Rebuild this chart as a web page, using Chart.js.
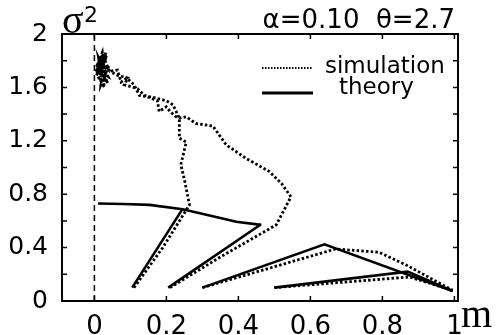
<!DOCTYPE html>
<html>
<head>
<meta charset="utf-8">
<script src="https://cdn.jsdelivr.net/npm/chart.js@4.4.1/dist/chart.umd.min.js"></script>
<style>
  html, body { margin: 0; padding: 0; background: #fff; }
  #wrap { width: 503px; height: 335px; }
</style>
</head>
<body>
<div id="wrap"><canvas id="myChart"></canvas></div>
<script>
// axes ----------------------------------------------------------->
const xTicks = [0, 0.2, 0.4, 0.6, 0.8, 1];
const yTicks = [0, 0.2, 0.4, 0.6, 0.8, 1.0, 1.2, 1.4, 1.6, 1.8, 2.0];
const yLabelled = [0, 0.4, 0.8, 1.2, 1.6, 2];

// simulation runs (m, sigma^2) ---------------------------------->
const simRun1 = [[0.11,0.10],[0.19,0.40],[0.264,0.72],[0.259,0.79],[0.25,0.91],[0.24,1.02],[0.255,1.19],
  [0.236,1.22],[0.236,1.37],[0.218,1.47],[0.20,1.50],[0.171,1.52],[0.153,1.53],[0.139,1.54],[0.12,1.59],
  [0.083,1.62],[0.093,1.67],[0.065,1.69],[0.042,1.72]];
// the run settles into a jittery blob near m=0
const simCluster = [[0.042,1.72],[0.03,1.80],[0.012,1.70],[0.035,1.84],[0.008,1.77],[0.03,1.64],
  [0.022,1.86],[0.004,1.73],[0.038,1.68],[0.012,1.82],[0.028,1.60],[0.010,1.68],[0.026,1.83],
  [0.006,1.79],[0.034,1.74],[0.016,1.64],[0.024,1.85],[0.004,1.75],[0.036,1.70],[0.014,1.80],
  [0.030,1.66],[0.008,1.71],[0.030,1.82],[0.010,1.74],[0.040,1.76],[0.018,1.62],[0.022,1.79],
  [0.006,1.69],[0.032,1.86],[0.012,1.77],[0.038,1.63],[0.016,1.72],[0.028,1.78],[0.010,1.83],
  [0.034,1.67],[0.020,1.74]];
const simRun2 = [[0.21,0.10],[0.35,0.33],[0.505,0.57],[0.546,0.78],[0.52,0.88],[0.486,0.97],[0.42,1.07],
  [0.366,1.17],[0.345,1.25],[0.329,1.31],[0.282,1.33],[0.255,1.38],[0.236,1.37],[0.227,1.38],[0.21,1.42],
  [0.20,1.455],[0.18,1.42],[0.175,1.50],[0.147,1.53],[0.125,1.54],[0.11,1.62],[0.09,1.67],[0.074,1.64],
  [0.064,1.73],[0.042,1.72]];
const simRun3 = [[0.30,0.10],[0.67,0.39],[0.79,0.365],[0.866,0.27],[0.995,0.08]];
const simRun4 = [[0.50,0.10],[0.875,0.18],[0.995,0.08]];

// theory ---------------------------------------------------------->
const theoryCurve = [[0.01,0.73],[0.08,0.727],[0.153,0.72],[0.245,0.687],[0.338,0.63],[0.394,0.594],[0.463,0.57]];
const theoryRun1 = [[0.105,0.10],[0.245,0.69]];
const theoryRun2 = [[0.205,0.10],[0.463,0.575]];
const theoryRun3 = [[0.30,0.10],[0.639,0.425],[0.995,0.075]];
const theoryRun4 = [[0.50,0.10],[0.87,0.22],[0.995,0.075]];

const zeroLine = [[0, 0], [0, 2]];

const toXY = arr => arr.map(p => ({ x: p[0], y: p[1] }));

function simSet(arr) {
    return { label: 'simulation', data: toXY(arr), borderColor: '#000', borderWidth: 2.8,
             borderDash: [2.5, 2.2], showLine: true, pointRadius: 0, tension: 0 };
}
function theorySet(arr) {
    return { label: 'theory', data: toXY(arr), borderColor: '#000', borderWidth: 2.6,
             showLine: true, pointRadius: 0, tension: 0 };
}

// frame, inward ticks, legend and labels
const extras = {
    id: 'extras',
    afterDraw(chart) {
        const ctx = chart.ctx;
        const a = chart.chartArea;
        const xs = chart.scales.x, ys = chart.scales.y;
        ctx.save();
        ctx.strokeStyle = '#000';
        ctx.lineWidth = 2;
        ctx.strokeRect(a.left, a.top, a.right - a.left, a.bottom - a.top);

        ctx.lineWidth = 1.5;
        ctx.beginPath();
        xTicks.forEach(v => {
            const px = xs.getPixelForValue(v);
            ctx.moveTo(px, a.bottom); ctx.lineTo(px, a.bottom - 5);
            ctx.moveTo(px, a.top); ctx.lineTo(px, a.top + 5);
        });
        yTicks.forEach(v => {
            const py = ys.getPixelForValue(v);
            ctx.moveTo(a.left, py); ctx.lineTo(a.left + 5, py);
            ctx.moveTo(a.right, py); ctx.lineTo(a.right - 5, py);
        });
        ctx.stroke();

        // legend
        ctx.lineWidth = 1.8;
        ctx.setLineDash([1.5, 1.5]);
        ctx.beginPath(); ctx.moveTo(262, 68); ctx.lineTo(312, 68); ctx.stroke();
        ctx.setLineDash([]);
        ctx.lineWidth = 2.8;
        ctx.beginPath(); ctx.moveTo(262, 93); ctx.lineTo(313, 93); ctx.stroke();

        ctx.fillStyle = '#000';
        ctx.textBaseline = 'alphabetic';
        ctx.textAlign = 'left';
        ctx.font = '23px "DejaVu Sans"';
        ctx.fillText('simulation', 325, 73);
        ctx.fillText('theory', 339, 94);

        // title
        ctx.textAlign = 'right';
        ctx.font = '26px "DejaVu Sans"';
        ctx.fillText('\u03b1=0.10  \u03b8=2.7', 455, 28);

        // axis names
        ctx.textAlign = 'left';
        ctx.font = '40px "Liberation Serif"';
        ctx.fillText('\u03c3', 62, 33);
        ctx.font = '22px "DejaVu Sans"';
        ctx.fillText('2', 84, 22);
        ctx.font = '40px "Liberation Serif"';
        ctx.fillText('m', 461, 327);
        ctx.restore();
    }
};

const ctx = document.getElementById('myChart');
const myChart = new Chart(ctx, {
    type: 'scatter',
    data: {
        datasets: [
            { label: 'zero', data: toXY(zeroLine), borderColor: '#000', borderWidth: 1.5,
              borderDash: [6, 4], showLine: true, pointRadius: 0 },
            theorySet(theoryCurve), theorySet(theoryRun1), theorySet(theoryRun2),
            theorySet(theoryRun3), theorySet(theoryRun4),
            simSet(simRun1), simSet(simCluster), simSet(simRun2), simSet(simRun3), simSet(simRun4)
        ]
    },
    options: {
        responsive: true,
        maintainAspectRatio: false,
        animation: false,
        layout: { padding: { top: 34, right: 45, left: 0, bottom: 0 } },
        plugins: { legend: { display: false }, tooltip: { enabled: false } },
        scales: {
            x: {
                type: 'linear', min: -0.09, max: 1.01,
                afterBuildTicks: s => { s.ticks = xTicks.map(v => ({ value: v })); },
                afterFit: s => { s.height = 34; },
                grid: { display: false }, border: { display: false },
                ticks: { color: '#000', padding: 3, maxRotation: 0, autoSkip: false,
                         font: { family: 'DejaVu Sans', size: 26 },
                         callback: v => String(+v.toFixed(1)) }
            },
            y: {
                type: 'linear', min: 0, max: 2,
                afterBuildTicks: s => { s.ticks = yTicks.map(v => ({ value: v })); },
                afterFit: s => { s.width = 62; },
                grid: { display: false }, border: { display: false },
                ticks: { color: '#000', padding: 6, autoSkip: false,
                         font: { family: 'DejaVu Sans', size: 25 },
                         callback: v => yLabelled.some(t => Math.abs(t - v) < 1e-6) ? String(+v.toFixed(1)) : '' }
            }
        }
    },
    plugins: [extras]
});
</script>
</body>
</html>
